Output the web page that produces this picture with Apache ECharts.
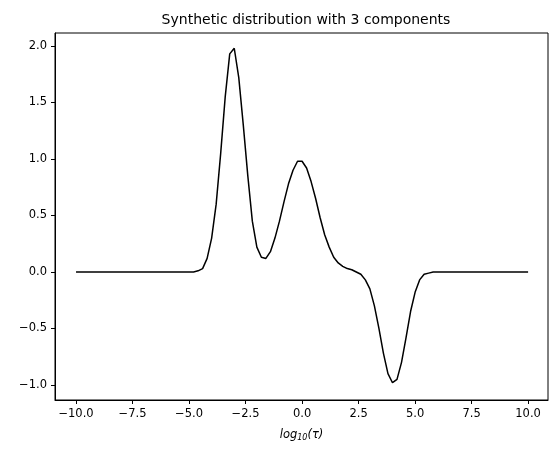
<!DOCTYPE html>
<html>
<head>
<meta charset="UTF-8">
<script src="https://cdn.jsdelivr.net/npm/echarts@6/dist/echarts.min.js"></script>
<style>html,body{margin:0;background:#fff}#c{width:559px;height:459px}</style>
</head>
<body>
<div id="c"></div>
<script>
// x grid -10..10 step 0.2
var xStart = -10, xStep = 0.2;
var yValues = [
  0,0,0,0,0,0,0,0,0,0,            // -10.0 .. -8.2
  0,0,0,0,0,0,0,0,0,0,            // -8.0 .. -6.2
  0,0,0,0,0,0,0,0.01,0.03,0.12,   // -6.0 .. -4.2
  0.3,0.6,1.05,1.55,1.93,1.98,1.72,1.3,0.85,0.45, // -4.0 .. -2.2
  0.22,0.13,0.12,0.18,0.3,0.45,0.62,0.78,0.9,0.98, // -2.0 .. -0.2
  0.98,0.92,0.8,0.65,0.48,0.33,0.22,0.13,0.08,0.05, // 0.0 .. 1.8
  0.03,0.02,0.0,-0.02,-0.07,-0.15,-0.3,-0.5,-0.72,-0.9, // 2.0 .. 3.8
  -0.98,-0.95,-0.8,-0.58,-0.35,-0.18,-0.07,-0.02,-0.01,0, // 4.0 .. 5.8
  0,0,0,0,0,0,0,0,0,0,
  0,0,0,0,0,0,0,0,0,0,
  0
];
var xTicks = [-10, -7.5, -5, -2.5, 0, 2.5, 5, 7.5, 10];
var yTicks = [-1, -0.5, 0, 0.5, 1, 1.5, 2];

var pts = yValues.map(function(v, i) { return [xStart + i * xStep, v]; });
var chart = echarts.init(document.getElementById('c'));
var axisCommon = {
  axisLine: {show: true, onZero: false, lineStyle: {color: '#000'}},
  axisTick: {show: true, length: 4, lineStyle: {color: '#000'}},
  splitLine: {show: false},
  axisLabel: {color: '#000', fontSize: 11.5, fontFamily: 'DejaVu Sans',
    formatter: function(v) { return v.toFixed(1).replace('-', '\u2212'); }}
};
chart.setOption({
  animation: false,
  title: {text: 'Synthetic distribution with 3 components', left: 301, top: 8, textAlign: 'center',
    textStyle: {fontSize: 14, fontWeight: 'normal', fontFamily: 'DejaVu Sans', color: '#000'}},
  grid: {left: 55, right: 11, top: 33, bottom: 59, show: true, borderColor: '#000', borderWidth: 1},
  xAxis: echarts.util.merge({
    type: 'value', min: -10.93, max: 10.88,
    name: '{i|log}{s|10}{i|(τ)}', nameLocation: 'middle', nameGap: 28,
    nameTextStyle: {rich: {
      i: {fontStyle: 'italic', fontSize: 11.5, fontFamily: 'DejaVu Sans', color: '#000'},
      s: {fontStyle: 'italic', fontSize: 8, fontFamily: 'DejaVu Sans', color: '#000', verticalAlign: 'bottom', padding: [6, 0, 0, 0]}
    }},
    axisTick: {customValues: xTicks},
    axisLabel: {customValues: xTicks}
  }, axisCommon, false),
  yAxis: echarts.util.merge({
    type: 'value', min: -1.133, max: 2.115,
    axisTick: {customValues: yTicks},
    axisLabel: {customValues: yTicks}
  }, axisCommon, false),
  series: [{type: 'line', data: pts, showSymbol: false, lineStyle: {color: '#000', width: 1.5}}]
});
</script>
</body>
</html>
